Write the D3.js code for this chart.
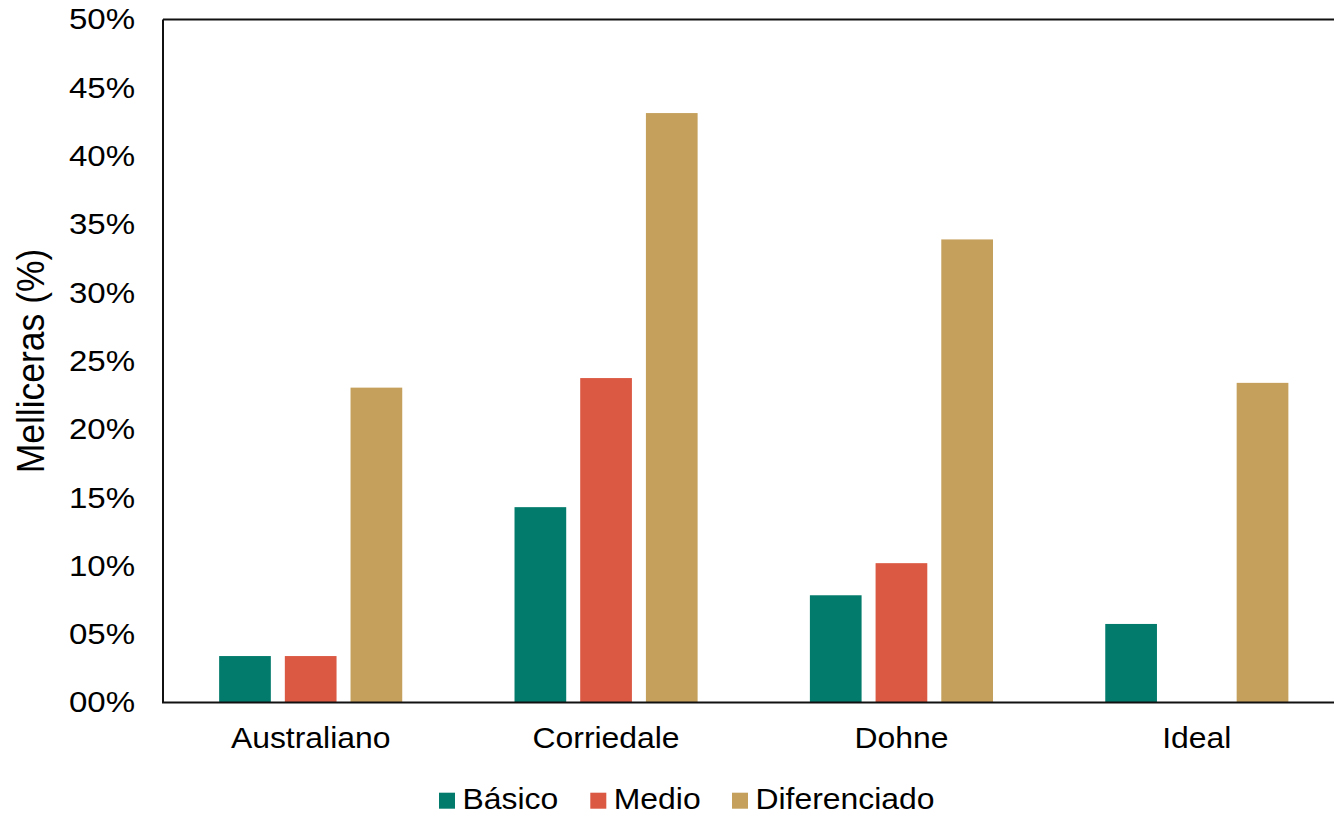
<!DOCTYPE html>
<html>
<head>
<meta charset="utf-8">
<script src="https://cdn.jsdelivr.net/npm/d3@7"></script>
<style>
html,body{margin:0;padding:0;background:#fff;}
svg{display:block;}
text{font-family:"Liberation Sans", Arial, sans-serif;fill:#000;}
</style>
</head>
<body>
<svg id="chart" width="1334" height="815"></svg>
<script>
const categories = ["Australiano", "Corriedale", "Dohne", "Ideal"];
const seriesNames = ["Básico", "Medio", "Diferenciado"];
const basico = [3.4, 14.3, 7.85, 5.75];
const medio = [3.4, 23.75, 10.2, 0];
const diferenciado = [23.05, 43.15, 33.9, 23.4];
const yTicks = [0, 5, 10, 15, 20, 25, 30, 35, 40, 45, 50];
const yTickLabels = ["00%", "05%", "10%", "15%", "20%", "25%", "30%", "35%", "40%", "45%", "50%"];
const colors = ["#037B6C", "#DB5842", "#C4A05C"];
const yTitle = "Melliceras (%)";

(function () {
const seriesValues = [basico, medio, diferenciado];
const FONT = '"Liberation Sans", Arial, sans-serif';
const K = 1.1; // horizontal stretch of glyphs seen in the reference

function stretch(sel, k) {
  sel.each(function () {
    const t = d3.select(this);
    const x = +t.attr("x") || 0;
    t.attr("x", x / k).attr("transform", `scale(${k},1)`);
  });
}

const svg = d3.select("#chart");
const pLeft = 163, pRight = 1344.5, pTop = 19.5, pBottom = 702.5;

const x0 = d3.scaleBand().domain(categories).range([pLeft, pRight]).paddingInner(0).paddingOuter(0);
const y = d3.scaleLinear().domain([0, 50]).range([pBottom, pTop]);

const barW = 51.7, gap = 14;
const groupW = barW * 3 + gap * 2;
const x1 = d3.scaleBand().domain(seriesNames).range([0, groupW]).paddingInner(gap / (barW + gap)).paddingOuter(0);

const g = svg.append("g");
categories.forEach((c, ci) => {
  const gx = x0(c) + (x0.bandwidth() - groupW) / 2;
  seriesNames.forEach((s, si) => {
    const v = seriesValues[si][ci];
    if (v <= 0) return;
    g.append("rect")
      .attr("x", gx + x1(s))
      .attr("y", y(v))
      .attr("width", x1.bandwidth())
      .attr("height", y(0) - y(v))
      .attr("fill", colors[si]);
  });
});

svg.append("line").attr("x1", pLeft).attr("x2", 1334).attr("y1", pTop).attr("y2", pTop)
  .attr("stroke", "#111").attr("stroke-width", 2);
svg.append("line").attr("x1", pLeft).attr("x2", pLeft).attr("y1", pTop).attr("y2", pBottom)
  .attr("stroke", "#111").attr("stroke-width", 2);
svg.append("line").attr("x1", pLeft - 1).attr("x2", 1334).attr("y1", pBottom).attr("y2", pBottom)
  .attr("stroke", "#111").attr("stroke-width", 2);

const yAxis = d3.axisLeft(y).tickValues(yTicks).tickSize(0).tickPadding(28)
  .tickFormat((d, i) => yTickLabels[i]);
const ya = svg.append("g").attr("transform", `translate(${pLeft},0)`).call(yAxis);
ya.select(".domain").remove();
ya.selectAll("text").attr("font-size", 29.5).attr("font-family", FONT).attr("fill", "#000");
stretch(ya.selectAll("text"), 1.12);

const xAxis = d3.axisBottom(x0).tickSize(0).tickPadding(25);
const xa = svg.append("g").attr("transform", `translate(0,${pBottom})`).call(xAxis);
xa.select(".domain").remove();
xa.selectAll("text").attr("font-size", 29).attr("font-family", FONT).attr("fill", "#000");
stretch(xa.selectAll("text"), K);

svg.append("text")
  .attr("transform", `translate(43.5,${(pTop + pBottom) / 2}) scale(${K},1) rotate(-90)`)
  .attr("text-anchor", "middle")
  .attr("font-size", 35.5)
  .text(yTitle);

const legendX = [439, 590.3, 732];
const lg = svg.append("g");
seriesNames.forEach((s, i) => {
  lg.append("rect").attr("x", legendX[i]).attr("y", 792.7).attr("width", 16).attr("height", 16).attr("fill", colors[i]);
  const t = lg.append("text").attr("x", legendX[i] + 23.5).attr("y", 809).attr("font-size", 29).text(s);
  stretch(t, K);
});
})();
</script>
</body>
</html>
